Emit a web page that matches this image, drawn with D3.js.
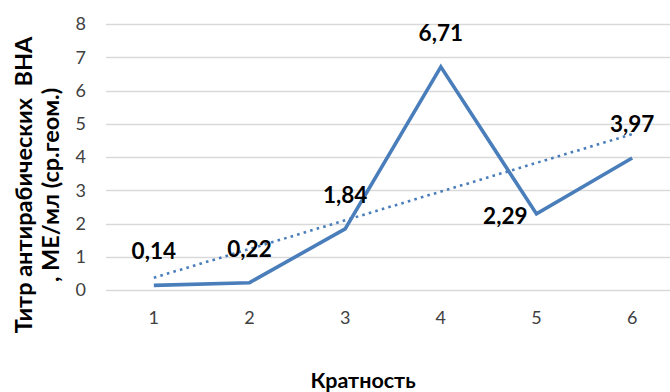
<!DOCTYPE html>
<html><head><meta charset="utf-8">
<script src="https://cdn.jsdelivr.net/npm/d3@7"></script>
<style>html,body{margin:0;padding:0;background:#fff;overflow:hidden}svg{display:block}text{font-family:Lato,"Open Sans",sans-serif}</style>
</head><body>
<script>
const categories = ["1","2","3","4","5","6"];
const values = [0.14, 0.22, 1.84, 6.71, 2.29, 3.97];
const valueLabels = ["0,14","0,22","1,84","6,71","2,29","3,97"];
const yTicks = [0,1,2,3,4,5,6,7,8];
const xTitle = "Кратность";
const yTitleLines = ["Титр антирабических  ВНА", ", МЕ/мл (ср.геом.)"];

const W = 670, H = 392;
const svg = d3.select("body").append("svg").attr("width", W).attr("height", H);

const x = d3.scaleBand().domain(categories).range([106, 680]);
const y = d3.scaleLinear().domain([0, 8]).range([290, 24]);
const cx = c => x(c) + x.bandwidth() / 2;

// gridlines
svg.append("g").selectAll("line").data(yTicks).join("line")
  .attr("x1", 106).attr("x2", W)
  .attr("y1", d => Math.round(y(d)) + 0.5).attr("y2", d => Math.round(y(d)) + 0.5)
  .attr("stroke", "#d9d9d9").attr("stroke-width", 1.3);

// y axis labels
const yAxis = d3.axisLeft(y).tickValues(yTicks).tickSize(0).tickPadding(0).tickFormat(d3.format("d"));
const gy = svg.append("g").attr("transform", "translate(86,0)").call(yAxis);
gy.select(".domain").remove();
gy.selectAll("text").attr("font-size", 18).attr("fill", "#404040").attr("font-family", "Lato, sans-serif");

// x axis labels
const xAxis = d3.axisBottom(x).tickSize(0).tickPadding(0);
const gx = svg.append("g").attr("transform", "translate(0,311)").call(xAxis);
gx.select(".domain").remove();
gx.selectAll("text").attr("font-size", 18).attr("fill", "#404040").attr("font-family", "Lato, sans-serif");

// trendline (linear least squares from the data)
const xs = categories.map((c, i) => i + 1);
const mx = d3.mean(xs), my = d3.mean(values);
const slope = d3.sum(xs.map((xi, i) => (xi - mx) * (values[i] - my))) / d3.sum(xs.map(xi => (xi - mx) ** 2));
const icpt = my - slope * mx;
const trend = categories.map((c, i) => ({c, v: icpt + slope * (i + 1)}));
svg.append("path").datum(trend)
  .attr("d", d3.line().x(d => cx(d.c)).y(d => y(d.v)))
  .attr("fill", "none").attr("stroke", "#4a7ebb").attr("stroke-width", 2.6)
  .attr("stroke-dasharray", "2.6 4.2");

// main line
const data = categories.map((c, i) => ({c, v: values[i], l: valueLabels[i]}));
svg.append("path").datum(data)
  .attr("d", d3.line().x(d => cx(d.c)).y(d => y(d.v)))
  .attr("fill", "none").attr("stroke", "#4a7ebb").attr("stroke-width", 3.6)
  .attr("stroke-linejoin", "miter");

// data labels
svg.append("g").selectAll("text").data(data).join("text")
  .attr("x", d => d.c === "5" ? cx(d.c) - 9 : cx(d.c))
  .attr("y", d => d.c === "5" ? y(d.v) + 10 : y(d.v) - 26)
  .attr("text-anchor", d => d.c === "5" ? "end" : "middle")
  .attr("dominant-baseline", "alphabetic")
  .attr("font-size", 22.5).attr("font-weight", "bold").attr("fill", "#000")
  .text(d => d.l);

// x title
svg.append("text").attr("x", 363).attr("y", 388).attr("text-anchor", "middle")
  .attr("font-size", 21.5).attr("font-weight", "bold").attr("fill", "#000").text(xTitle);

// y title
const yt = svg.append("g").attr("transform", "translate(0,185) rotate(-90)");
yt.selectAll("text").data(yTitleLines).join("text")
  .attr("x", 0).attr("y", (d, i) => i === 0 ? 32 : 59)
  .attr("text-anchor", "middle")
  .attr("font-size", 23.5).attr("font-weight", "bold").attr("fill", "#000")
  .attr("xml:space", "preserve").style("white-space", "pre")
  .text(d => d);
</script>
</body></html>
